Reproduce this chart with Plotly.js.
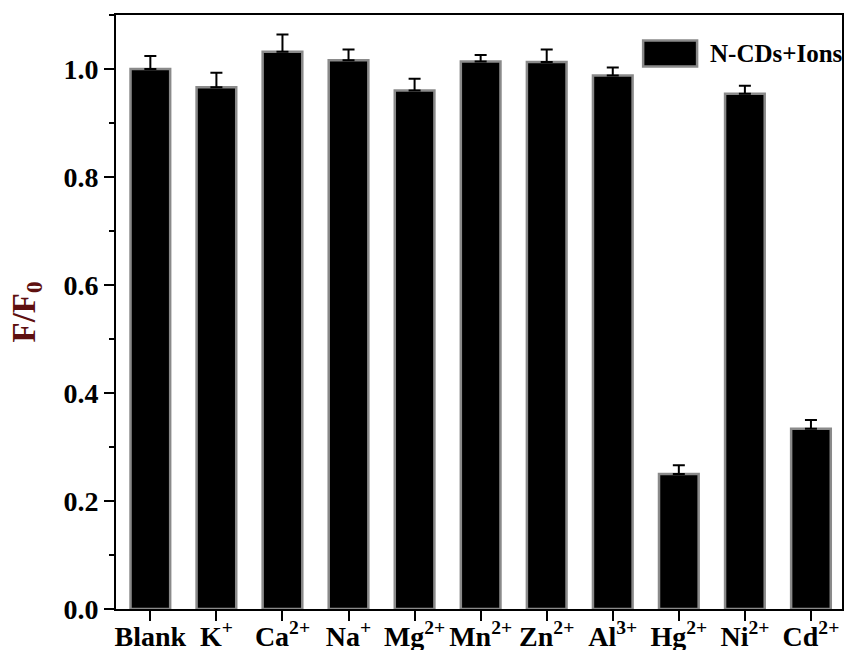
<!DOCTYPE html>
<html>
<head>
<meta charset="utf-8">
<script src="https://cdn.plot.ly/plotly-3.0.1.min.js"></script>
<style>html,body{margin:0;padding:0;background:#fff;}#chart{width:845px;height:650px;}</style>
</head>
<body>
<div id="chart"></div>
<script>
const categories = ["Blank", "K<sup>+</sup>", "Ca<sup>2+</sup>", "Na<sup>+</sup>", "Mg<sup>2+</sup>", "Mn<sup>2+</sup>", "Zn<sup>2+</sup>", "Al<sup>3+</sup>", "Hg<sup>2+</sup>", "Ni<sup>2+</sup>", "Cd<sup>2+</sup>"];
const ratioValues = [1.000, 0.966, 1.032, 1.016, 0.960, 1.014, 1.013, 0.988, 0.250, 0.954, 0.334];
const errorPlus = [0.024, 0.027, 0.032, 0.020, 0.022, 0.012, 0.023, 0.015, 0.016, 0.015, 0.016];
const seriesName = "N-CDs+Ions";
const yTickValues = [0.0, 0.2, 0.4, 0.6, 0.8, 1.0];

const xIdx = categories.map((c, i) => i);
const fontFam = 'Liberation Serif';

const trace = {
  type: 'bar',
  x: xIdx,
  y: ratioValues,
  name: seriesName,
  width: 0.6,
  marker: {color: '#000000', line: {color: '#8a8a8a', width: 2.5}},
  error_y: {type: 'data', symmetric: false, array: errorPlus, arrayminus: errorPlus.map(() => 0), color: '#000000', thickness: 2, width: 6},
  showlegend: false
};

const layout = {
  width: 845, height: 650,
  margin: {l: 115.5, r: 3, t: 14.5, b: 40.5},
  paper_bgcolor: '#ffffff', plot_bgcolor: '#ffffff',
  font: {family: fontFam, color: '#000000', size: 28},
  xaxis: {
    range: [-0.52, 10.47],
    tickmode: 'array', tickvals: xIdx, ticktext: categories.map(c => '<b>' + c + '</b>'),
    ticks: 'outside', ticklen: 10, tickwidth: 2, tickcolor: '#000',
    ticklabelstandoff: -9,
    showline: true, linecolor: '#000', linewidth: 2, mirror: true,
    showgrid: false, zeroline: false,
    tickfont: {family: fontFam, size: 28, color: '#000'}
  },
  yaxis: {
    range: [0, 1.1],
    tickmode: 'array', tickvals: yTickValues, ticktext: yTickValues.map(v => '<b>' + v.toFixed(1) + '</b>'),
    ticks: 'outside', ticklen: 10, tickwidth: 2, tickcolor: '#000',
    minor: {dtick: 0.1, tick0: 0, ticks: 'outside', ticklen: 5, tickwidth: 2, tickcolor: '#000', showgrid: false},
    showline: true, linecolor: '#000', linewidth: 2, mirror: true,
    showgrid: false, zeroline: false,
    tickfont: {family: fontFam, size: 28, color: '#000'},
    title: {text: '<b>F/F<sub>0</sub></b>', font: {family: fontFam, size: 33, color: '#5e1010'}, standoff: 18}
  },
  shapes: [{
    type: 'rect', xref: 'paper', yref: 'paper',
    x0: (643 - 115.5) / 726.5, x1: (697 - 115.5) / 726.5,
    y0: (609.5 - 66) / 595, y1: (609.5 - 40) / 595,
    fillcolor: '#000', line: {color: '#8a8a8a', width: 2.5}
  }],
  annotations: [{
    xref: 'paper', yref: 'paper',
    x: (708 - 115.5) / 726.5, y: (609.5 - 53) / 595,
    xanchor: 'left', yanchor: 'middle',
    text: '<b>' + seriesName + '</b>', showarrow: false,
    font: {family: fontFam, size: 25, color: '#000'}
  }]
};

Plotly.newPlot('chart', [trace], layout, {displayModeBar: false, staticPlot: true});
</script>
</body>
</html>
